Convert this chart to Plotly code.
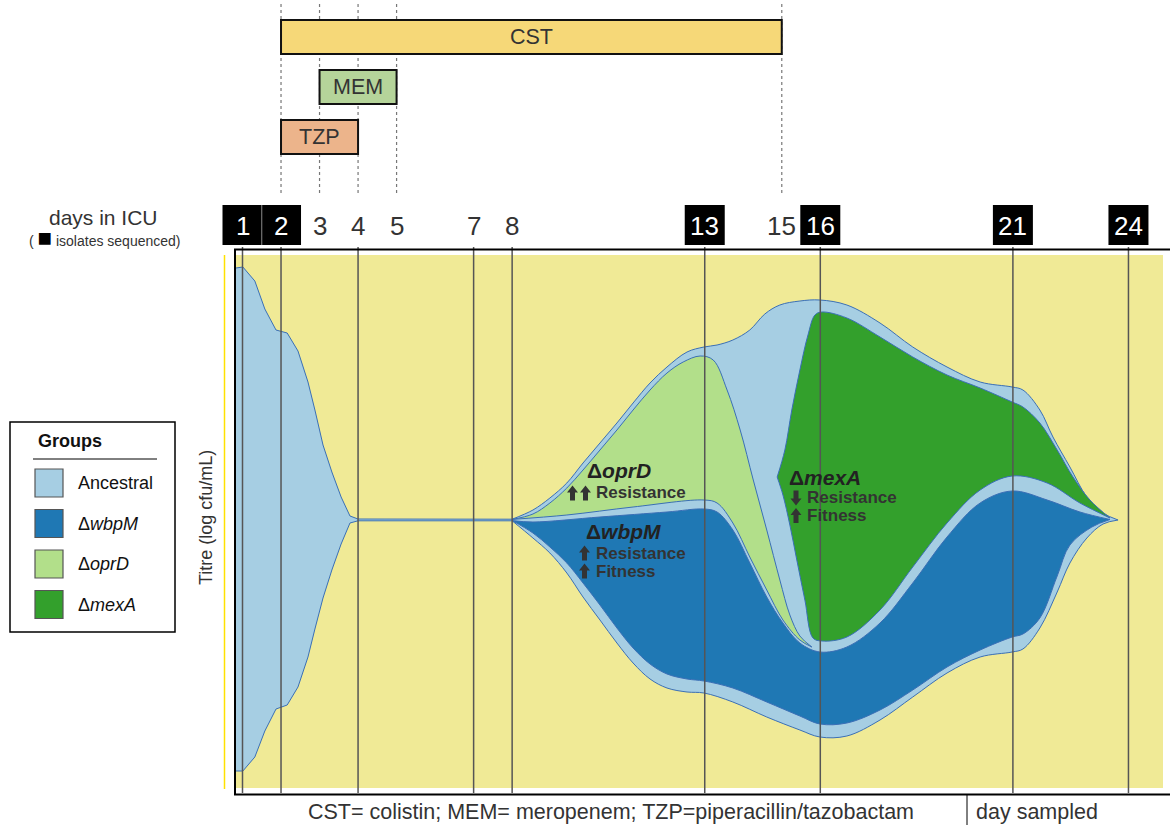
import plotly.graph_objects as go

# ---------------- schedule ----------------
icu_days = [1, 2, 3, 4, 5, 7, 8, 13, 15, 16, 21, 24]
sequenced_days = [1, 2, 13, 16, 21, 24]
sampled_days = [1, 2, 4, 7, 8, 13, 16, 21, 24]

drug_names = ["CST", "MEM", "TZP"]
drug_start = [2, 3, 2]
drug_end = [15, 5, 4]

group_names = ["Ancestral", "Δ<i>wbpM</i>", "Δ<i>oprD</i>", "Δ<i>mexA</i>"]

# ---------------- Muller boundaries (day, relative titre) ----------------
# ancestral population, days 1-8
anc_early_day = [0.83, 1.01, 1.32, 1.58, 1.87, 2.16, 2.44, 2.70, 2.88, 3.09, 3.32, 3.56, 3.79, 4.0, 8.0]
anc_early_top = [25.2, 25.3, 23.9, 21.1, 19.0, 18.7, 16.9, 13.8, 11.0, 7.5, 4.8, 2.3, 0.4, 0.1, 0.08]
anc_early_bot = [-25.1, -25.1, -23.7, -21.1, -18.9, -18.5, -16.7, -13.7, -10.9, -7.8, -5.0, -2.4, -0.3, -0.08, -0.08]

# ancestral population, days 8-24
anc_late_day_top = [8.0, 8.54, 8.98, 9.42, 9.84, 10.28, 10.72, 11.14, 11.58, 12.02, 12.54, 12.98, 13.32,
                    13.73, 14.17, 14.56, 14.95, 15.47, 15.99, 16.69, 17.55, 18.40, 19.29, 20.15, 20.98,
                    21.26, 21.70, 22.04, 22.48, 22.92, 23.34, 23.73]
anc_late_top = [0.08, 1.0, 2.2, 3.7, 5.7, 7.7, 9.7, 11.7, 13.7, 15.3, 16.8, 17.3, 17.5,
                18.0, 19.0, 20.6, 21.5, 21.9, 22.0, 21.5, 19.7, 17.3, 15.3, 13.8, 13.3,
                13.0, 11.0, 8.3, 5.3, 2.3, 0.7, 0.0]
anc_late_day_bot = [8.0, 8.54, 8.98, 9.42, 9.84, 10.28, 10.72, 11.14, 11.58, 12.02, 12.54, 12.98, 13.73,
                    14.61, 15.47, 15.99, 16.69, 17.55, 18.40, 19.29, 20.15, 20.98, 21.26, 21.70, 22.15,
                    22.48, 22.92, 23.34, 23.73]
anc_late_bot = [-0.08, -1.8, -3.3, -5.3, -7.7, -10.0, -12.3, -14.3, -15.9, -16.8, -17.2, -17.3, -18.2,
                -19.7, -21.0, -21.7, -21.6, -20.0, -17.7, -15.3, -13.7, -13.2, -12.9, -10.8, -7.2,
                -4.3, -1.8, -0.4, 0.0]

# delta-wbpM
wbpm_day_top = [8.0, 8.54, 10.28, 12.02, 12.98, 13.32, 13.73, 14.17, 14.61, 15.03, 15.47, 15.99, 16.69,
                17.55, 18.40, 19.29, 20.15, 20.98, 21.89, 22.74, 23.52]
wbpm_top = [-0.06, -0.2, 0.3, 0.8, 1.1, 0.8, -1.0, -4.3, -7.7, -10.3, -12.3, -13.2, -12.7,
            -10.3, -6.3, -1.7, 1.7, 2.9, 2.0, 0.8, 0.05]
wbpm_day_bot = [8.0, 8.54, 8.98, 9.42, 9.84, 10.28, 10.72, 11.14, 11.58, 12.02, 12.54, 12.98, 13.73,
                14.61, 15.47, 15.99, 16.69, 17.55, 18.40, 19.29, 20.15, 20.98, 21.26, 21.70, 22.15,
                22.48, 23.05, 23.52]
wbpm_bot = [-0.06, -1.3, -2.7, -4.3, -6.3, -8.5, -10.8, -12.8, -14.4, -15.4, -15.9, -16.1, -16.8,
            -18.2, -19.6, -20.4, -20.3, -19.0, -17.0, -14.7, -13.0, -11.7, -11.4, -9.8, -5.6,
            -2.5, -0.7, 0.05]

# delta-oprD
oprd_day_top = [8.0, 8.54, 8.98, 9.42, 9.84, 10.28, 10.72, 11.14, 11.58, 12.02, 12.44, 12.88, 13.22,
                13.58, 13.92, 14.26, 14.61, 14.95, 15.21, 15.47, 15.78]
oprd_top = [0.06, 0.6, 1.7, 3.2, 5.0, 7.0, 9.0, 11.0, 13.0, 14.7, 15.8, 16.4, 16.0,
            13.0, 9.0, 4.0, -1.0, -6.0, -9.5, -11.6, -12.7]
oprd_day_bot = [8.0, 9.42, 11.14, 12.98, 13.32, 13.73, 14.17, 14.61, 15.03, 15.47, 15.78]
oprd_bot = [0.06, 0.5, 1.3, 2.0, 1.7, -0.3, -3.7, -7.0, -10.0, -12.0, -12.7]

# delta-mexA
mexa_day_top = [14.88, 15.08, 15.26, 15.47, 15.68, 15.86, 16.04, 16.69, 17.55, 18.40, 19.29, 20.15,
                20.98, 21.26, 21.70, 22.15, 22.56, 23.00, 23.52]
mexa_top = [4.3, 7.0, 11.0, 15.0, 18.5, 20.5, 20.8, 20.2, 18.3, 16.3, 14.5, 13.2,
            11.8, 11.3, 9.7, 7.0, 4.3, 2.0, 0.2]
mexa_day_bot = [14.88, 15.03, 15.21, 15.39, 15.60, 15.81, 16.04, 16.69, 17.55, 18.40, 19.29, 20.15,
                20.98, 21.89, 22.74, 23.52]
mexa_bot = [4.3, 2.5, -0.5, -4.0, -8.0, -11.8, -12.1, -11.7, -9.0, -4.7, -0.3, 3.0,
            4.4, 3.7, 1.7, 0.2]

# ---------------- styling ----------------
W, H = 1170, 825
FONT = "Liberation Sans, Arial, Helvetica, sans-serif"
TXT = "#333333"
EDGE = "#3a6fb6"
GROUP_COLORS = ["#a6cee3", "#1f78b4", "#b2df8a", "#33a02c"]
DRUG_COLORS = ["#f6d878", "#b5d49a", "#ecb48b"]
BG_YELLOW = "#f0ea96"


def X(px):
    """canvas pixel column -> day"""
    return 1 + (px - 242.5) / 38.52


def Y(py):
    """canvas pixel row -> titre units"""
    return (520 - py) / 10.0


fig = go.Figure()


def band(days_bot, bot, days_top, top, color, shape):
    common = dict(mode="lines", hoverinfo="skip", showlegend=False)
    fig.add_trace(go.Scatter(x=days_bot, y=bot, line=dict(color=EDGE, width=1, shape=shape), **common))
    fig.add_trace(go.Scatter(x=days_top, y=top, line=dict(color=EDGE, width=1, shape=shape),
                             fill="tonexty", fillcolor=color, **common))


band(anc_early_day, anc_early_bot, anc_early_day, anc_early_top, GROUP_COLORS[0], "linear")
band(anc_late_day_bot, anc_late_bot, anc_late_day_top, anc_late_top, GROUP_COLORS[0], "spline")
band(wbpm_day_bot, wbpm_bot, wbpm_day_top, wbpm_top, GROUP_COLORS[1], "spline")
band(oprd_day_bot, oprd_bot, oprd_day_top, oprd_top, GROUP_COLORS[2], "spline")
band(mexa_day_bot, mexa_bot, mexa_day_top, mexa_top, GROUP_COLORS[3], "spline")

shapes = []
annots = []

# plotting panel background
shapes.append(dict(type="rect", xref="x", yref="y", x0=X(236), x1=X(1163), y0=Y(788), y1=Y(255),
                   fillcolor=BG_YELLOW, line=dict(width=0), layer="below"))
# yellow titre axis
shapes.append(dict(type="line", xref="x", yref="y", x0=X(224.5), x1=X(224.5), y0=Y(255), y1=Y(789),
                   line=dict(color="#ffe100", width=1.5), layer="below"))

# sampling day verticals
for d in sampled_days:
    shapes.append(dict(type="line", xref="x", yref="y", x0=d, x1=d, y0=Y(247), y1=Y(793),
                       line=dict(color="#555555", width=1.5), layer="above"))

# frame
shapes.append(dict(type="line", xref="x", yref="y", x0=X(234), x1=X(1170), y0=Y(249.5), y1=Y(249.5),
                   line=dict(color="black", width=2), layer="above"))
shapes.append(dict(type="line", xref="x", yref="y", x0=X(235), x1=X(235), y0=Y(249), y1=Y(795),
                   line=dict(color="black", width=2), layer="above"))
shapes.append(dict(type="line", xref="x", yref="y", x0=X(234), x1=X(1170), y0=Y(794.5), y1=Y(794.5),
                   line=dict(color="black", width=2), layer="above"))

# treatment window guides
for d in sorted(set(drug_start + drug_end)):
    shapes.append(dict(type="line", xref="x", yref="y", x0=d, x1=d, y0=Y(4), y1=Y(196),
                       line=dict(color="#777777", width=1.2, dash="dot"), layer="above"))

# treatment bars
bar_rows = [(20, 54), (70, 104), (120, 154)]
for name, s, e, col, (r0, r1) in zip(drug_names, drug_start, drug_end, DRUG_COLORS, bar_rows):
    shapes.append(dict(type="rect", xref="x", yref="y", x0=s, x1=e, y0=Y(r1), y1=Y(r0),
                       fillcolor=col, line=dict(color="#111111", width=2), layer="above"))
    annots.append(dict(x=(s + e) / 2, y=Y((r0 + r1) / 2), xref="x", yref="y", text=name,
                       showarrow=False, font=dict(family=FONT, size=21.5, color=TXT)))

# day labels
half = 20 / 38.52
for d in icu_days:
    if d in sequenced_days:
        shapes.append(dict(type="rect", xref="x", yref="y", x0=d - half, x1=d + half, y0=Y(245), y1=Y(205),
                           fillcolor="black", line=dict(width=0), layer="above"))
        col = "white"
    else:
        col = TXT
    annots.append(dict(x=d, y=Y(226), xref="x", yref="y", text=str(d), showarrow=False,
                       font=dict(family=FONT, size=26, color=col)))
shapes.append(dict(type="line", xref="x", yref="y", x0=1.5, x1=1.5, y0=Y(245), y1=Y(205),
                   line=dict(color="#8a8a8a", width=1), layer="above"))

annots.append(dict(x=X(103), y=Y(217), xref="x", yref="y", text="days in ICU", showarrow=False,
                   font=dict(family=FONT, size=21, color=TXT)))
annots.append(dict(x=X(104), y=Y(237), xref="x", yref="y",
                   text="( <span style='font-size:24px;color:black'>■</span> isolates sequenced)",
                   showarrow=False, font=dict(family=FONT, size=14, color=TXT)))

# legend box
shapes.append(dict(type="rect", xref="x", yref="y", x0=X(10), x1=X(175), y0=Y(632), y1=Y(422),
                   fillcolor="white", line=dict(color="black", width=1.5), layer="above"))
shapes.append(dict(type="line", xref="x", yref="y", x0=X(33), x1=X(157), y0=Y(459), y1=Y(459),
                   line=dict(color="black", width=1), layer="above"))
annots.append(dict(x=X(36), y=Y(441), xref="x", yref="y", text="<b>Groups</b>", showarrow=False,
                   xanchor="left", font=dict(family=FONT, size=18, color="#111111")))
for i, (name, col) in enumerate(zip(group_names, GROUP_COLORS)):
    cy = 483 + 40.5 * i
    shapes.append(dict(type="rect", xref="x", yref="y", x0=X(35), x1=X(63), y0=Y(cy + 14), y1=Y(cy - 14),
                       fillcolor=col, line=dict(color="#555555", width=1.2), layer="above"))
    annots.append(dict(x=X(76), y=Y(cy), xref="x", yref="y", text=name, showarrow=False,
                       xanchor="left", font=dict(family=FONT, size=18, color="#111111")))

# titre axis title
annots.append(dict(x=X(206), y=Y(518), xref="x", yref="y", text="Titre (log cfu/mL)", showarrow=False,
                   textangle=-90, font=dict(family=FONT, size=18, color=TXT)))

# footer
annots.append(dict(x=X(611), y=Y(812), xref="x", yref="y",
                   text="CST= colistin; MEM= meropenem; TZP=piperacillin/tazobactam", showarrow=False,
                   font=dict(family=FONT, size=21.5, color=TXT)))
annots.append(dict(x=X(974), y=Y(812), xref="x", yref="y", text="day sampled", showarrow=False,
                   xanchor="left", font=dict(family=FONT, size=21.5, color=TXT)))
shapes.append(dict(type="line", xref="x", yref="y", x0=X(967), x1=X(967), y0=Y(795), y1=Y(825),
                   line=dict(color="black", width=1), layer="above"))


# clone annotations
def note(px, py, text, size=17, color=TXT):
    annots.append(dict(x=X(px), y=Y(py), xref="x", yref="y", text=text, showarrow=False,
                       xanchor="left", font=dict(family=FONT, size=size, color=color)))


def block_arrow(px, py, up=True, w=11, h=15, shaft=5, head=7):
    """filled block arrow centred at canvas pixel (px, py)"""
    s = -1 if up else 1
    tip = py + s * h / 2
    base = py - s * h / 2
    neck = tip - s * head
    pts = [(px, tip), (px + w / 2, neck), (px + shaft / 2, neck), (px + shaft / 2, base),
           (px - shaft / 2, base), (px - shaft / 2, neck), (px - w / 2, neck)]
    path = "M " + " L ".join(f"{X(a):.5f},{Y(b):.5f}" for a, b in pts) + " Z"
    shapes.append(dict(type="path", xref="x", yref="y", path=path, fillcolor=TXT,
                       line=dict(width=0), layer="above"))


note(585, 470, "<b>Δ<i>oprD</i></b>", 21, "#222222")
block_arrow(572.5, 493)
block_arrow(585.5, 493)
note(594, 492, "<b>Resistance</b>")

note(584, 531, "<b>Δ<i>wbpM</i></b>", 21, "#222222")
block_arrow(584.5, 553)
note(594, 553, "<b>Resistance</b>")
block_arrow(584.5, 571)
note(594, 571, "<b>Fitness</b>")

note(787, 477, "<b>Δ<i>mexA</i></b>", 21, "#222222")
block_arrow(796, 498, up=False)
note(805, 497, "<b>Resistance</b>")
block_arrow(796, 515.5)
note(805, 515, "<b>Fitness</b>")

fig.update_layout(
    width=W, height=H, autosize=False,
    margin=dict(l=0, r=0, t=0, b=0, pad=0),
    paper_bgcolor="white", plot_bgcolor="white",
    showlegend=False,
    xaxis=dict(range=[X(0), X(W)], visible=False, fixedrange=True),
    yaxis=dict(range=[Y(H), Y(0)], visible=False, fixedrange=True),
    shapes=shapes, annotations=annots,
)

fig.write_html("out.html")
